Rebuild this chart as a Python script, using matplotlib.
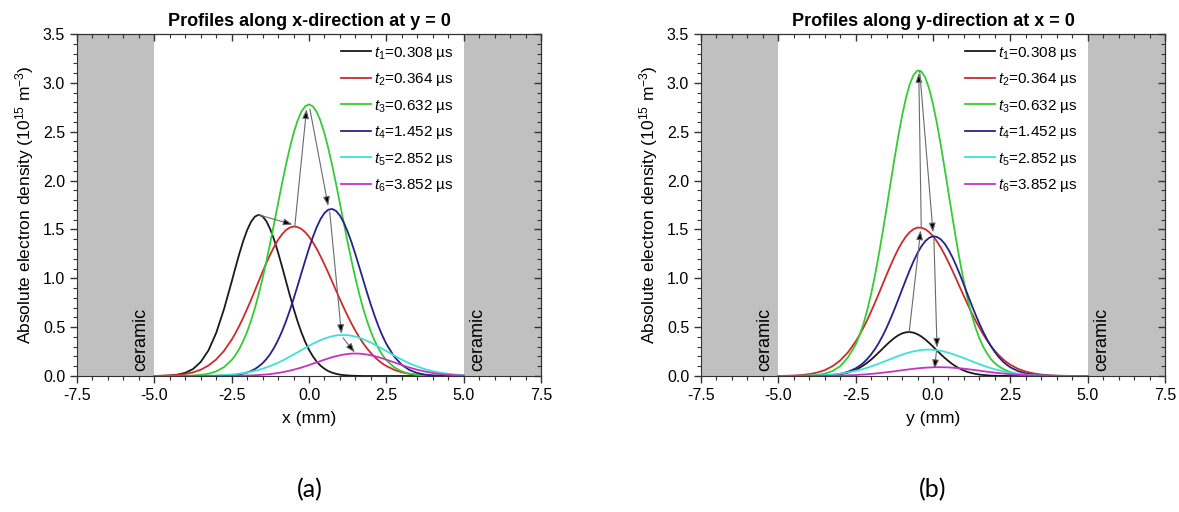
import matplotlib
matplotlib.use('Agg')
import matplotlib.pyplot as plt
from matplotlib.ticker import MultipleLocator, FormatStrFormatter, NullFormatter

plt.rcParams['font.family'] = ['Liberation Sans', 'DejaVu Sans']
plt.rcParams['mathtext.fontset'] = 'custom'
plt.rcParams['mathtext.rm'] = 'Liberation Sans'
plt.rcParams['mathtext.it'] = 'Liberation Sans:italic'
plt.rcParams['axes.unicode_minus'] = False

# position along the profile (mm); finer spacing through the peaks
pos = [-5.0, -4.75, -4.5, -4.25, -4.0, -3.75, -3.5, -3.25, -3.0, -2.75,
       -2.5, -2.375, -2.25, -2.125, -2.0, -1.875, -1.75, -1.625, -1.5, -1.375,
       -1.25, -1.125, -1.0, -0.875, -0.75, -0.625, -0.5, -0.375, -0.25, -0.125,
       0.0, 0.125, 0.25, 0.375, 0.5, 0.625, 0.75, 0.875, 1.0, 1.125,
       1.25, 1.375, 1.5, 1.625, 1.75, 1.875, 2.0, 2.125, 2.25, 2.375, 2.5,
       2.75, 3.0, 3.25, 3.5, 3.75, 4.0, 4.25, 4.5, 4.75, 5.0]

# (a) profiles along x at y = 0  (10^15 m^-3)
xa_t1 = [0.0, 0.002, 0.005, 0.014, 0.033, 0.071, 0.144, 0.262, 0.441, 0.682,
         0.965, 1.112, 1.254, 1.383, 1.493, 1.577, 1.631, 1.650, 1.634, 1.583,
         1.500, 1.393, 1.264, 1.124, 0.977, 0.832, 0.693, 0.564, 0.450, 0.351,
         0.268, 0.201, 0.147, 0.105, 0.074, 0.050, 0.034, 0.022, 0.014, 0.009,
         0.006, 0.003, 0.002, 0.001, 0.0, 0.0, 0.0, 0.0, 0.0, 0.0, 0.0,
         0.0, 0.0, 0.0, 0.0, 0.0, 0.0, 0.0, 0.0, 0.0, 0.0]
xa_t2 = [0.001, 0.003, 0.006, 0.011, 0.021, 0.037, 0.064, 0.107, 0.169, 0.256,
         0.371, 0.440, 0.516, 0.598, 0.686, 0.778, 0.874, 0.971, 1.066, 1.159,
         1.245, 1.324, 1.393, 1.449, 1.492, 1.519, 1.530, 1.525, 1.506, 1.472,
         1.427, 1.368, 1.301, 1.224, 1.142, 1.055, 0.965, 0.874, 0.785, 0.698,
         0.615, 0.536, 0.463, 0.396, 0.336, 0.282, 0.235, 0.193, 0.158, 0.127, 0.102,
         0.064, 0.038, 0.022, 0.012, 0.007, 0.003, 0.002, 0.001, 0.0, 0.0]
xa_t3 = [0.0, 0.0, 0.0, 0.001, 0.002, 0.005, 0.011, 0.023, 0.047, 0.090,
         0.163, 0.215, 0.280, 0.359, 0.453, 0.564, 0.693, 0.839, 1.002, 1.179,
         1.368, 1.566, 1.766, 1.965, 2.154, 2.329, 2.483, 2.608, 2.702, 2.760,
         2.780, 2.760, 2.702, 2.608, 2.483, 2.329, 2.154, 1.965, 1.766, 1.566,
         1.368, 1.179, 1.002, 0.839, 0.693, 0.564, 0.453, 0.359, 0.280, 0.215, 0.163,
         0.090, 0.047, 0.023, 0.011, 0.005, 0.002, 0.001, 0.0, 0.0, 0.0]
xa_t4 = [0.0, 0.0, 0.0, 0.0, 0.0, 0.0, 0.0, 0.0, 0.001, 0.003,
         0.008, 0.012, 0.017, 0.025, 0.036, 0.051, 0.071, 0.098, 0.131, 0.174,
         0.227, 0.291, 0.367, 0.455, 0.555, 0.667, 0.788, 0.916, 1.048, 1.179,
         1.306, 1.422, 1.524, 1.607, 1.668, 1.702, 1.709, 1.689, 1.642, 1.570,
         1.477, 1.368, 1.246, 1.116, 0.985, 0.854, 0.729, 0.612, 0.505, 0.411, 0.329,
         0.200, 0.114, 0.061, 0.031, 0.014, 0.006, 0.003, 0.001, 0.0, 0.0]
xa_t5 = [0.0, 0.0, 0.001, 0.001, 0.001, 0.002, 0.002, 0.004, 0.006, 0.010,
         0.015, 0.019, 0.024, 0.030, 0.036, 0.044, 0.053, 0.063, 0.075, 0.088,
         0.103, 0.119, 0.136, 0.155, 0.175, 0.197, 0.219, 0.241, 0.264, 0.286,
         0.308, 0.330, 0.349, 0.367, 0.383, 0.396, 0.407, 0.415, 0.419, 0.420,
         0.418, 0.412, 0.403, 0.392, 0.377, 0.360, 0.342, 0.321, 0.300, 0.277, 0.255,
         0.210, 0.167, 0.129, 0.097, 0.070, 0.049, 0.034, 0.022, 0.014, 0.009]
xa_t6 = [0.0, 0.0, 0.0, 0.0, 0.0, 0.0, 0.0, 0.0, 0.0, 0.001,
         0.001, 0.002, 0.003, 0.003, 0.005, 0.006, 0.008, 0.010, 0.013, 0.016,
         0.020, 0.025, 0.031, 0.038, 0.046, 0.054, 0.064, 0.075, 0.086, 0.099,
         0.112, 0.126, 0.140, 0.153, 0.167, 0.180, 0.192, 0.203, 0.212, 0.220,
         0.225, 0.229, 0.230, 0.229, 0.225, 0.220, 0.212, 0.203, 0.192, 0.180, 0.167,
         0.140, 0.112, 0.086, 0.064, 0.046, 0.031, 0.020, 0.013, 0.008, 0.005]

# (b) profiles along y at x = 0
yb_t1 = [0.0, 0.0, 0.0, 0.0, 0.0, 0.001, 0.003, 0.008, 0.017, 0.035,
         0.064, 0.084, 0.108, 0.136, 0.168, 0.204, 0.242, 0.281, 0.320, 0.356,
         0.389, 0.416, 0.436, 0.447, 0.450, 0.443, 0.427, 0.404, 0.374, 0.339,
         0.301, 0.262, 0.223, 0.186, 0.153, 0.122, 0.096, 0.074, 0.056, 0.041,
         0.030, 0.021, 0.015, 0.010, 0.007, 0.004, 0.003, 0.002, 0.001, 0.001, 0.0,
         0.0, 0.0, 0.0, 0.0, 0.0, 0.0, 0.0, 0.0, 0.0, 0.0]
yb_t2 = [0.001, 0.002, 0.005, 0.010, 0.019, 0.035, 0.060, 0.100, 0.159, 0.242,
         0.353, 0.420, 0.494, 0.574, 0.660, 0.751, 0.845, 0.941, 1.036, 1.129,
         1.217, 1.298, 1.368, 1.428, 1.473, 1.504, 1.519, 1.517, 1.502, 1.473,
         1.432, 1.378, 1.315, 1.243, 1.164, 1.080, 0.993, 0.904, 0.816, 0.730,
         0.646, 0.567, 0.494, 0.425, 0.363, 0.307, 0.257, 0.214, 0.176, 0.143, 0.116,
         0.073, 0.045, 0.026, 0.015, 0.008, 0.004, 0.002, 0.001, 0.0, 0.0]
yb_t3 = [0.0, 0.0, 0.001, 0.002, 0.004, 0.010, 0.024, 0.050, 0.100, 0.190,
         0.322, 0.416, 0.533, 0.675, 0.841, 1.032, 1.245, 1.476, 1.720, 1.968,
         2.215, 2.450, 2.663, 2.845, 2.987, 3.083, 3.127, 3.117, 3.055, 2.941,
         2.783, 2.588, 2.367, 2.127, 1.878, 1.630, 1.390, 1.166, 0.961, 0.780,
         0.625, 0.495, 0.385, 0.298, 0.230, 0.172, 0.130, 0.100, 0.075, 0.055, 0.040,
         0.020, 0.008, 0.003, 0.001, 0.0, 0.0, 0.0, 0.0, 0.0, 0.0]
yb_t4 = [0.0, 0.0, 0.0, 0.0, 0.001, 0.002, 0.005, 0.011, 0.022, 0.043,
         0.078, 0.104, 0.135, 0.174, 0.221, 0.276, 0.340, 0.413, 0.494, 0.584,
         0.680, 0.781, 0.884, 0.986, 1.085, 1.177, 1.259, 1.327, 1.380, 1.414,
         1.430, 1.424, 1.399, 1.355, 1.293, 1.217, 1.130, 1.034, 0.932, 0.829,
         0.727, 0.629, 0.536, 0.450, 0.373, 0.304, 0.245, 0.194, 0.152, 0.117, 0.089,
         0.050, 0.026, 0.013, 0.006, 0.003, 0.001, 0.0, 0.0, 0.0, 0.0]
yb_t5 = [0.0, 0.0, 0.001, 0.002, 0.003, 0.006, 0.010, 0.016, 0.024, 0.037,
         0.053, 0.062, 0.073, 0.085, 0.098, 0.112, 0.127, 0.142, 0.157, 0.173,
         0.189, 0.204, 0.218, 0.231, 0.243, 0.252, 0.260, 0.266, 0.269, 0.270,
         0.268, 0.264, 0.258, 0.249, 0.238, 0.226, 0.212, 0.198, 0.183, 0.167,
         0.151, 0.136, 0.121, 0.106, 0.093, 0.080, 0.069, 0.058, 0.049, 0.041, 0.034,
         0.022, 0.014, 0.009, 0.005, 0.003, 0.002, 0.001, 0.0, 0.0, 0.0]
yb_t6 = [0.0, 0.0, 0.0, 0.0, 0.0, 0.001, 0.002, 0.003, 0.004, 0.007,
         0.010, 0.013, 0.015, 0.018, 0.022, 0.025, 0.029, 0.034, 0.038, 0.043,
         0.048, 0.054, 0.059, 0.064, 0.069, 0.074, 0.078, 0.082, 0.085, 0.087,
         0.089, 0.090, 0.090, 0.089, 0.088, 0.085, 0.082, 0.079, 0.075, 0.070,
         0.065, 0.060, 0.055, 0.049, 0.044, 0.039, 0.034, 0.030, 0.026, 0.022, 0.019,
         0.013, 0.009, 0.006, 0.004, 0.002, 0.001, 0.0, 0.0, 0.0, 0.0]

labels = [r'$t_1$=0.308 µs', r'$t_2$=0.364 µs', r'$t_3$=0.632 µs',
          r'$t_4$=1.452 µs', r'$t_5$=2.852 µs', r'$t_6$=3.852 µs']
colors = ['#1a1a1a', '#cc2b2b', '#33cc33', '#23238c', '#40e0d8', '#c633c6']

# arrows following the peak (tail -> head)
arrows_a = [((-1.64, 1.65), (-0.53, 1.55)),
            ((-0.46, 1.53), (-0.08, 2.73)),
            ((0.03, 2.73), (0.62, 1.74)),
            ((0.67, 1.68), (1.05, 0.43)),
            ((1.10, 0.39), (1.48, 0.24))]
arrows_b = [((-0.77, 0.45), (-0.40, 1.49)),
            ((-0.38, 1.52), (-0.46, 3.10)),
            ((-0.43, 3.12), (0.0, 1.47)),
            ((0.03, 1.40), (0.13, 0.29)),
            ((0.11, 0.25), (0.05, 0.07))]


def draw_panel(ax, series, arrows, title, xlabel):
    ax.axvspan(-7.5, -5.0, color='#c0c0c0', lw=0, zorder=0)
    ax.axvspan(5.0, 7.5, color='#c0c0c0', lw=0, zorder=0)
    ax.text(-5.45, 0.05, 'ceramic', rotation=90, ha='center', va='bottom', fontsize=13)
    ax.text(5.45, 0.05, 'ceramic', rotation=90, ha='center', va='bottom', fontsize=13)
    for ys, c, lab in zip(series, colors, labels):
        ax.plot(pos, ys, color=c, lw=1.3, label=lab, zorder=2)
    for tail, head in arrows:
        ax.annotate('', xy=head, xytext=tail,
                    arrowprops=dict(arrowstyle='-|>,head_length=0.55,head_width=0.2',
                                    ec='#6a6a6a', fc='black', lw=0.8,
                                    shrinkA=0, shrinkB=0), zorder=3)
    ax.set_xlim(-7.5, 7.5)
    ax.set_ylim(0, 3.5)
    ax.xaxis.set_major_locator(MultipleLocator(2.5))
    ax.xaxis.set_minor_locator(MultipleLocator(0.5))
    ax.yaxis.set_major_locator(MultipleLocator(0.5))
    ax.yaxis.set_minor_locator(MultipleLocator(0.1))
    ax.xaxis.set_major_formatter(FormatStrFormatter('%.1f'))
    ax.yaxis.set_major_formatter(FormatStrFormatter('%.1f'))
    ax.tick_params(which='both', direction='out', labelsize=11.5, color='#333333')
    ax.tick_params(which='major', length=5, width=1)
    ax.tick_params(which='minor', length=3, width=0.8)
    for s in ax.spines.values():
        s.set_color('#333333')
    top = ax.secondary_xaxis('top')
    top.xaxis.set_major_locator(MultipleLocator(2.5))
    top.xaxis.set_minor_locator(MultipleLocator(0.5))
    top.xaxis.set_major_formatter(NullFormatter())
    top.tick_params(which='both', direction='in', color='#333333')
    top.tick_params(which='major', length=5, width=1)
    top.tick_params(which='minor', length=3, width=0.8)
    right = ax.secondary_yaxis('right')
    right.yaxis.set_major_locator(MultipleLocator(0.5))
    right.yaxis.set_minor_locator(MultipleLocator(0.1))
    right.yaxis.set_major_formatter(NullFormatter())
    right.tick_params(which='both', direction='in', color='#333333')
    right.tick_params(which='major', length=5, width=1)
    right.tick_params(which='minor', length=3, width=0.8)
    ax.set_title(title, fontweight='bold', fontsize=13, pad=6)
    ax.set_xlabel(xlabel, fontsize=12.5, labelpad=6)
    ax.set_ylabel(r'Absolute electron density (10$^{15}$ m$^{-3}$)', fontsize=12.5, labelpad=5)
    ax.legend(loc='upper right', bbox_to_anchor=(0.834, 1.0), frameon=False,
              fontsize=11, handlelength=2.0, handletextpad=0.15,
              labelspacing=0.62, borderaxespad=0.3)


fig = plt.figure(figsize=(11.79, 5.12), dpi=100)
ax_a = fig.add_axes([77 / 1179, 1 - 376 / 512, 464 / 1179, 342 / 512])
ax_b = fig.add_axes([701 / 1179, 1 - 376 / 512, 464 / 1179, 342 / 512])

draw_panel(ax_a, [xa_t1, xa_t2, xa_t3, xa_t4, xa_t5, xa_t6], arrows_a,
           'Profiles along x-direction at y = 0', 'x (mm)')
draw_panel(ax_b, [yb_t1, yb_t2, yb_t3, yb_t4, yb_t5, yb_t6], arrows_b,
           'Profiles along y-direction at x = 0', 'y (mm)')

fig.text(310 / 1179, 1 - 490 / 512, '(a)', ha='center', va='center', fontsize=18, family='Lato')
fig.text(933 / 1179, 1 - 490 / 512, '(b)', ha='center', va='center', fontsize=18, family='Lato')

fig.savefig('out.png', dpi=100)
